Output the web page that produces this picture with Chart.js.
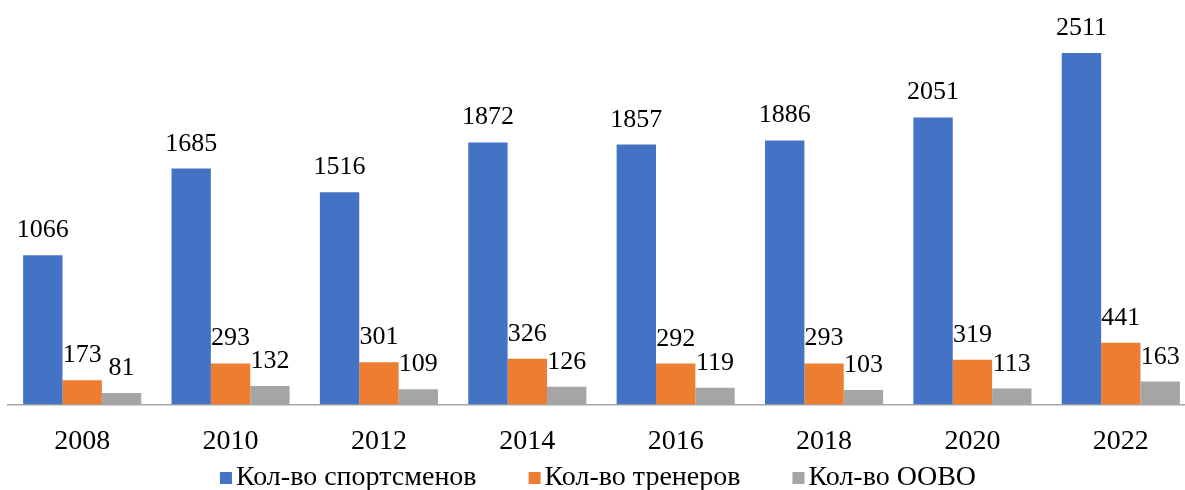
<!DOCTYPE html>
<html>
<head>
<meta charset="utf-8">
<script src="https://cdn.jsdelivr.net/npm/chart.js@4"></script>
<style>
    html, body { margin: 0; padding: 0; background: #fff; overflow: hidden; }
    #wrap { width: 1195px; height: 490px; }
</style>
</head>
<body>
<div id="wrap"><canvas id="chart" width="1195" height="490"></canvas></div>
<script>
// 資料
const years = ['2008', '2010', '2012', '2014', '2016', '2018', '2020', '2022'];
const athletes = [1066, 1685, 1516, 1872, 1857, 1886, 2051, 2511];
const coaches = [173, 293, 301, 326, 292, 293, 319, 441];
const oovo = [81, 132, 109, 126, 119, 103, 113, 163];
const seriesNames = ['Кол-во спортсменов', 'Кол-во тренеров', 'Кол-во ООВО'];
const seriesColors = ['#4472c4', '#ed7d31', '#a5a5a5'];

const FONT = '"Liberation Serif", "Times New Roman", serif';

// 數值標籤
const valueLabels = {
    id: 'valueLabels',
    afterDatasetsDraw(chart) {
        const ctx = chart.ctx;
        ctx.save();
        ctx.font = '26px ' + FONT;
        ctx.fillStyle = '#000';
        ctx.textAlign = 'center';
        ctx.textBaseline = 'alphabetic';
        chart.data.datasets.forEach((ds, i) => {
            chart.getDatasetMeta(i).data.forEach((bar, j) => {
                ctx.fillText(String(ds.data[j]), bar.x, bar.y - 18);
            });
        });
        ctx.restore();
    }
};

// 圖例 (底部)
const bottomLegend = {
    id: 'bottomLegend',
    afterDraw(chart) {
        const ctx = chart.ctx;
        ctx.save();
        ctx.font = '28px ' + FONT;
        ctx.textBaseline = 'alphabetic';
        const box = 12, gapText = 4, gapItem = 52;
        const widths = seriesNames.map(n => ctx.measureText(n).width);
        let total = widths.reduce((a, b) => a + b, 0) + seriesNames.length * (box + gapText) + gapItem * (seriesNames.length - 1);
        let x = 598 - total / 2;
        const y = 485;
        seriesNames.forEach((name, i) => {
            ctx.fillStyle = seriesColors[i];
            ctx.fillRect(x, y - 13, box, box);
            x += box + gapText;
            ctx.fillStyle = '#000';
            ctx.fillText(name, x, y);
            x += widths[i] + gapItem;
        });
        ctx.restore();
    }
};

new Chart(document.getElementById('chart').getContext('2d'), {
    type: 'bar',
    data: {
        labels: years,
        datasets: [athletes, coaches, oovo].map((d, i) => ({
            label: seriesNames[i],
            data: d,
            backgroundColor: seriesColors[i],
            borderWidth: 0,
            categoryPercentage: 0.796,
            barPercentage: 1
        }))
    },
    options: {
        responsive: false,
        animation: false,
        layout: { padding: { left: 8, right: 0, top: 0, bottom: 12 } },
        plugins: {
            legend: { display: false },
            tooltip: { enabled: false }
        },
        scales: {
            x: {
                grid: { display: false, drawTicks: false },
                border: { color: '#a6a6a6', width: 1.5 },
                ticks: { color: '#000', font: { family: FONT, size: 28 }, padding: 20 }
            },
            y: {
                display: false,
                min: 0,
                max: 2890
            }
        }
    },
    plugins: [valueLabels, bottomLegend]
});
</script>
</body>
</html>
